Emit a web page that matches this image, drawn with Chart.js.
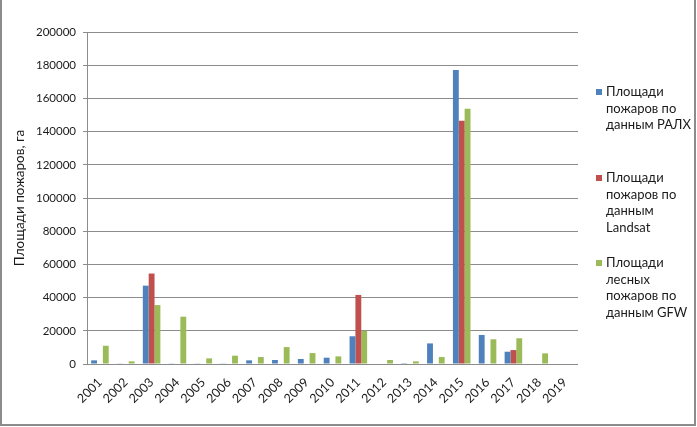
<!DOCTYPE html>
<html>
<head>
<meta charset="utf-8">
<script src="https://cdn.jsdelivr.net/npm/chart.js@4"></script>
<style>
  html, body { margin: 0; padding: 0; background: #fff; }
  #wrap { width: 697px; height: 427px; position: relative; }
</style>
</head>
<body>
<div id="wrap"><canvas id="chart"></canvas></div>
<script>
// годы и площади пожаров, га
const years = ['2001', '2002', '2003', '2004', '2005', '2006', '2007', '2008', '2009', '2010',
               '2011', '2012', '2013', '2014', '2015', '2016', '2017', '2018', '2019'];
const ralx    = [2200, 400, 47200, 400, 400, 400, 2200, 2400, 3000, 3800,
                 16700, null, 500, 12400, 177100, 17500, 7400, null, null];
const landsat = [null, null, 54500, null, null, null, null, null, null, null,
                 41600, null, null, null, 146600, null, 8400, null, null];
const gfw     = [11000, 1600, 35500, 28500, 3400, 5000, 4200, 10200, 6600, 4600,
                 20000, 2400, 1600, 4200, 153800, 14900, 15500, 6400, null];
const seriesNames = [
  ['Площади', 'пожаров по', 'данным РАЛХ'],
  ['Площади', 'пожаров по', 'данным', 'Landsat'],
  ['Площади', 'лесных', 'пожаров по', 'данным GFW']
];
const seriesColors = ['#4F81BD', '#C0504D', '#9BBB59'];
const yTicks = [0, 20000, 40000, 60000, 80000, 100000, 120000, 140000, 160000, 180000, 200000];
const yTitle = 'Площади пожаров, га';

const FONT = 'Lato, "Open Sans", sans-serif';

// рамка вокруг диаграммы (слева, справа и снизу)
const framePlugin = {
  id: 'frame',
  afterDraw(chart) {
    const ctx = chart.ctx;
    ctx.save();
    ctx.strokeStyle = '#8c8c8c';
    ctx.lineWidth = 2;
    ctx.beginPath();
    ctx.moveTo(1, 0);
    ctx.lineTo(1, 425);
    ctx.lineTo(695, 425);
    ctx.lineTo(695, 0);
    ctx.stroke();
    ctx.restore();
  }
};

// легенда справа, многострочные подписи
const sideLegend = {
  id: 'sideLegend',
  afterDraw(chart) {
    const ctx = chart.ctx;
    const starts = [92, 178, 263];
    const lineH = 16.5;
    ctx.save();
    ctx.font = '13px ' + FONT;
    ctx.textBaseline = 'middle';
    chart.data.datasets.forEach((ds, i) => {
      const y0 = starts[i];
      ctx.fillStyle = ds.backgroundColor;
      ctx.fillRect(596, y0 - 3, 6, 6);
      ctx.fillStyle = '#1a1a1a';
      ds.label.forEach((line, k) => {
        ctx.fillText(line, 606, y0 + k * lineH);
      });
    });
    ctx.restore();
  }
};

new Chart(document.getElementById('chart'), {
  type: 'bar',
  data: {
    labels: years,
    datasets: [ralx, landsat, gfw].map((d, i) => ({
      label: seriesNames[i],
      data: d,
      backgroundColor: seriesColors[i],
      borderWidth: 0,
      categoryPercentage: 0.68,
      barPercentage: 1
    }))
  },
  options: {
    responsive: true,
    maintainAspectRatio: false,
    animation: false,
    layout: { padding: { top: 32, right: 119, left: 0, bottom: 0 } },
    plugins: {
      legend: { display: false },
      tooltip: { enabled: false }
    },
    scales: {
      x: {
        grid: { display: false },
        border: { display: false },
        ticks: {
          minRotation: 45,
          maxRotation: 45,
          color: '#1a1a1a',
          font: { family: FONT, size: 12.5 },
          padding: 3
        },
        afterFit(scale) { scale.height = 63; }
      },
      y: {
        min: 0,
        max: 200000,
        afterBuildTicks(scale) { scale.ticks = yTicks.map(v => ({ value: v })); },
        grid: { color: '#8c8c8c', tickColor: '#8c8c8c', tickLength: 4 },
        border: { display: true, color: '#8c8c8c' },
        ticks: {
          color: '#1a1a1a',
          font: { family: FONT, size: 11.5 },
          padding: 7,
          callback: v => String(v)
        },
        title: {
          display: true,
          text: yTitle,
          color: '#1a1a1a',
          font: { family: FONT, size: 13.5 },
          padding: { top: 12, bottom: 0 }
        },
        afterFit(scale) { scale.width = 87; }
      }
    }
  },
  plugins: [framePlugin, sideLegend]
});
</script>
</body>
</html>
